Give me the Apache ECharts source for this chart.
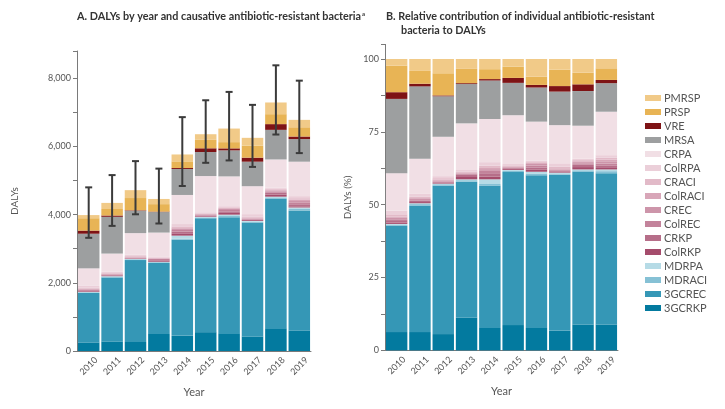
<!DOCTYPE html>
<html><head><meta charset="utf-8">
<script src="https://cdn.jsdelivr.net/npm/echarts@6/dist/echarts.min.js"></script>
<style>html,body{margin:0;padding:0;background:#fff}#c{width:725px;height:409px}</style>
</head><body><div id="c"></div>
<script>
const years = ['2010','2011','2012','2013','2014','2015','2016','2017','2018','2019'];

// Panel A: DALYs (absolute)
const dalys_3GCRKP  = [251, 274, 264, 500, 444, 553, 502, 419, 649, 603];
const dalys_3GCREC  = [1459, 1881, 2402, 2083, 2819, 3339, 3419, 3350, 3827, 3519];
const dalys_MDRACI  = [12, 26, 24, 22, 29, 25, 39, 25, 29, 47];
const dalys_MDRPA   = [8, 13, 9, 13, 92, 19, 39, 19, 22, 41];
const dalys_ColRKP  = [20, 17, 9, 36, 52, 19, 52, 25, 58, 34];
const dalys_CRKP    = [32, 22, 14, 40, 69, 19, 46, 19, 58, 61];
const dalys_ColREC  = [12, 9, 9, 9, 46, 13, 39, 13, 36, 41];
const dalys_CREC    = [20, 17, 14, 9, 35, 19, 39, 13, 29, 54];
const dalys_ColRACI = [16, 13, 19, 13, 23, 13, 20, 25, 22, 41];
const dalys_CRACI   = [32, 17, 24, 13, 46, 19, 20, 38, 29, 41];
const dalys_ColRPA  = [48, 43, 33, 22, 69, 32, 33, 69, 36, 61];
const dalys_CRPA    = [514, 526, 637, 714, 853, 1062, 874, 819, 824, 1010];
const dalys_MRSA    = [1016, 1078, 656, 602, 761, 706, 763, 719, 868, 664];
const dalys_VRE     = [92, 39, 14, 13, 29, 108, 59, 119, 168, 75];
const dalys_PRSP    = [363, 191, 359, 219, 196, 248, 183, 350, 292, 271];
const dalys_PMRSP   = [92, 178, 231, 152, 202, 165, 398, 231, 343, 217];

// Panel A: uncertainty intervals of total DALYs
const ciLow  = [3320, 3670, 4010, 3740, 4840, 5520, 5590, 5400, 6350, 5805];
const ciHigh = [4800, 5160, 5570, 5350, 6860, 7355, 7600, 7220, 8380, 7930];

// Panel B: relative contribution (%)
const pct_3GCRKP  = [6.3, 6.3, 5.6, 11.2, 7.7, 8.7, 7.7, 6.7, 8.9, 8.9];
const pct_3GCREC  = [36.6, 43.3, 50.9, 46.7, 48.9, 52.5, 52.4, 53.6, 52.5, 51.9];
const pct_MDRACI  = [0.3, 0.6, 0.5, 0.5, 0.5, 0.4, 0.6, 0.4, 0.4, 0.7];
const pct_MDRPA   = [0.2, 0.3, 0.2, 0.3, 1.6, 0.3, 0.6, 0.3, 0.3, 0.6];
const pct_ColRKP  = [0.5, 0.4, 0.2, 0.8, 0.9, 0.3, 0.8, 0.4, 0.8, 0.5];
const pct_CRKP    = [0.8, 0.5, 0.3, 0.9, 1.2, 0.3, 0.7, 0.3, 0.8, 0.9];
const pct_ColREC  = [0.3, 0.2, 0.2, 0.2, 0.8, 0.2, 0.6, 0.2, 0.5, 0.6];
const pct_CREC    = [0.5, 0.4, 0.3, 0.2, 0.6, 0.3, 0.6, 0.2, 0.4, 0.8];
const pct_ColRACI = [0.4, 0.3, 0.4, 0.3, 0.4, 0.2, 0.3, 0.4, 0.3, 0.6];
const pct_CRACI   = [0.8, 0.4, 0.5, 0.3, 0.8, 0.3, 0.3, 0.6, 0.4, 0.6];
const pct_ColRPA  = [1.2, 1.0, 0.7, 0.5, 1.2, 0.5, 0.5, 1.1, 0.5, 0.9];
const pct_CRPA    = [12.9, 12.1, 13.5, 16.0, 14.8, 16.7, 13.4, 13.1, 11.3, 14.9];
const pct_MRSA    = [25.5, 24.8, 13.9, 13.5, 13.2, 11.1, 11.7, 11.5, 11.9, 9.8];
const pct_VRE     = [2.3, 0.9, 0.3, 0.3, 0.5, 1.7, 0.9, 1.9, 2.3, 1.1];
const pct_PRSP    = [9.1, 4.4, 7.6, 4.9, 3.4, 3.9, 2.8, 5.6, 4.0, 4.0];
const pct_PMRSP   = [2.3, 4.1, 4.9, 3.4, 3.5, 2.6, 6.1, 3.7, 4.7, 3.2];

const bacteria = [
  {name:'3GCRKP',  a:dalys_3GCRKP,  b:pct_3GCRKP,  color:'#037a9f'},
  {name:'3GCREC',  a:dalys_3GCREC,  b:pct_3GCREC,  color:'#3597b6'},
  {name:'MDRACI',  a:dalys_MDRACI,  b:pct_MDRACI,  color:'#86c1d5'},
  {name:'MDRPA',   a:dalys_MDRPA,   b:pct_MDRPA,   color:'#b6dbe6'},
  {name:'ColRKP',  a:dalys_ColRKP,  b:pct_ColRKP,  color:'#a54c6c'},
  {name:'CRKP',    a:dalys_CRKP,    b:pct_CRKP,    color:'#b66e89'},
  {name:'ColREC',  a:dalys_ColREC,  b:pct_ColREC,  color:'#c3839b'},
  {name:'CREC',    a:dalys_CREC,    b:pct_CREC,    color:'#cd95aa'},
  {name:'ColRACI', a:dalys_ColRACI, b:pct_ColRACI, color:'#d8a6b8'},
  {name:'CRACI',   a:dalys_CRACI,   b:pct_CRACI,   color:'#e2bac8'},
  {name:'ColRPA',  a:dalys_ColRPA,  b:pct_ColRPA,  color:'#ebcfd9'},
  {name:'CRPA',    a:dalys_CRPA,    b:pct_CRPA,    color:'#f1dfe5'},
  {name:'MRSA',    a:dalys_MRSA,    b:pct_MRSA,    color:'#9d9fa0'},
  {name:'VRE',     a:dalys_VRE,     b:pct_VRE,     color:'#7e1315'},
  {name:'PRSP',    a:dalys_PRSP,    b:pct_PRSP,    color:'#e8b455'},
  {name:'PMRSP',   a:dalys_PMRSP,   b:pct_PMRSP,   color:'#f1ca88'}
];

const FONT = 'Lato, "Open Sans", sans-serif';
const axisCol = '#7a7a7a';
const lblCol = '#555';

function xAxisCfg(gi){
  return {
    type:'category', gridIndex:gi, data:years,
    name:'Year', nameLocation:'middle', nameGap:36,
    nameTextStyle:{fontFamily:FONT, fontSize:11, color:lblCol},
    axisLine:{lineStyle:{color:axisCol, width:1}},
    axisTick:{alignWithLabel:true, length:4, lineStyle:{color:axisCol}},
    axisLabel:{rotate:45, align:'center', verticalAlign:'middle', margin:15,
               fontFamily:FONT, fontSize:9, color:lblCol}
  };
}

const series = [];
bacteria.forEach(s=>{
  series.push({type:'bar', name:s.name, xAxisIndex:0, yAxisIndex:0, stack:'A',
    data:s.a, barCategoryGap:'8%', itemStyle:{color:s.color}, emphasis:{disabled:true}});
});
bacteria.forEach(s=>{
  series.push({type:'bar', name:s.name, xAxisIndex:1, yAxisIndex:1, stack:'B',
    data:s.b, barCategoryGap:'8%', itemStyle:{color:s.color}, emphasis:{disabled:true}});
});
series.push({
  type:'custom', name:'UI', xAxisIndex:0, yAxisIndex:0, z:10,
  encode:{x:0, y:[1,2]},
  data: years.map((y,i)=>[i, ciLow[i], ciHigh[i]]),
  renderItem:function(params, api){
    const x = api.value(0);
    const lo = api.coord([x, api.value(1)]);
    const hi = api.coord([x, api.value(2)]);
    const w = 3.5;
    const st = {stroke:'#3b3b3b', lineWidth:2};
    return {type:'group', children:[
      {type:'line', shape:{x1:lo[0], y1:lo[1], x2:hi[0], y2:hi[1]}, style:st},
      {type:'line', shape:{x1:lo[0]-w, y1:lo[1], x2:lo[0]+w, y2:lo[1]}, style:st},
      {type:'line', shape:{x1:hi[0]-w, y1:hi[1], x2:hi[0]+w, y2:hi[1]}, style:st}
    ]};
  }
});

const chart = echarts.init(document.getElementById('c'), null, {renderer:'canvas'});
chart.setOption({
  animation:false,
  backgroundColor:'#fff',
  textStyle:{fontFamily:FONT},
  title:[
    {text:'A. DALYs by year and causative antibiotic-resistant bacteria{sup|a}', left:77, top:11, padding:0,
     textStyle:{fontFamily:FONT, fontSize:10.8, fontWeight:'bold', color:'#333',
       rich:{sup:{fontSize:6, fontWeight:'bold', color:'#333', verticalAlign:'top', padding:[0,0,6,1]}}}},
    {text:'B. Relative contribution of individual antibiotic-resistant', left:386, top:11, padding:0,
     textStyle:{fontFamily:FONT, fontSize:10.8, fontWeight:'bold', color:'#333'}},
    {text:'bacteria to DALYs', left:401, top:25, padding:0,
     textStyle:{fontFamily:FONT, fontSize:10.8, fontWeight:'bold', color:'#333'}}
  ],
  legend:{
    orient:'vertical', left:645, top:92, icon:'rect', padding:0,
    itemWidth:16, itemHeight:6, itemGap:2,
    data:bacteria.map(b=>b.name).reverse(),
    textStyle:{fontFamily:FONT, fontSize:11, lineHeight:12, color:lblCol, padding:[0,0,0,-2]},
    selectedMode:false
  },
  grid:[
    {left:77, top:51, width:234, height:300},
    {left:385, top:44.4, width:233, height:306}
  ],
  xAxis:[xAxisCfg(0), xAxisCfg(1)],
  yAxis:[
    {type:'value', gridIndex:0, min:0, max:8800, interval:1000,
     name:'DALYs', nameLocation:'middle', nameGap:57, nameRotate:90,
     nameTextStyle:{fontFamily:FONT, fontSize:10, color:lblCol},
     splitLine:{show:false},
     axisLine:{show:true, lineStyle:{color:axisCol, width:1}},
     axisTick:{show:true, length:4, lineStyle:{color:axisCol}},
     axisLabel:{margin:6, fontFamily:FONT, fontSize:9, color:lblCol,
       formatter:v=> (v % 2000 === 0 && v <= 8000) ? v.toLocaleString('en-US') : ''}},
    {type:'value', gridIndex:1, min:0, max:105, interval:12.5,
     name:'DALYs (%)', nameLocation:'middle', nameGap:32, nameRotate:90,
     nameTextStyle:{fontFamily:FONT, fontSize:10, color:lblCol},
     splitLine:{show:false},
     axisLine:{show:true, lineStyle:{color:axisCol, width:1}},
     axisTick:{show:true, length:4, lineStyle:{color:axisCol}},
     axisLabel:{margin:6, fontFamily:FONT, fontSize:9, color:lblCol,
       formatter:v=> (v % 25 === 0 && v <= 100) ? String(v) : ''}}
  ],
  series:series
});
</script>
</body></html>
